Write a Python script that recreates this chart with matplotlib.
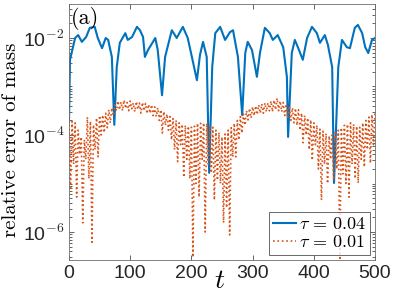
import math
import matplotlib
matplotlib.use('Agg')
from matplotlib import pyplot as plt
from matplotlib.ticker import FixedLocator, FuncFormatter, NullFormatter

# relative error of mass, tau = 0.04 (log10 values)
t_blue = [0, 1.6, 10, 15, 21, 28, 34, 42, 47, 54, 60, 64, 70, 74, 78, 83, 92, 96, 103, 111,
          116, 121, 124, 129, 141, 145, 152, 157, 168, 176, 186, 194, 203, 209, 214, 219, 225,
          229, 234, 239, 247, 255, 263, 268, 276, 283, 288, 292, 299, 307, 312, 320, 328, 333,
          341, 350, 356, 358, 364, 369, 374, 382, 389, 397, 405, 410, 418, 423, 430, 433, 440,
          446, 454, 459, 467, 472, 479, 484, 489, 495, 500]
log_blue = [-3.73, -2.45, -2.0, -1.94, -2.08, -1.98, -1.79, -1.77, -2.0, -2.21, -2.0, -2.04,
            -2.39, -3.79, -2.60, -2.10, -1.90, -2.04, -1.98, -1.77, -1.84, -1.98, -2.39, -2.25,
            -2.0, -2.25, -3.18, -2.39, -1.84, -2.0, -1.77, -2.0, -2.52, -2.87, -2.35, -2.08,
            -2.39, -4.78, -2.60, -1.90, -1.77, -2.04, -1.88, -1.84, -2.39, -3.59, -2.31, -2.08,
            -2.25, -2.80, -2.31, -1.79, -1.90, -2.04, -1.94, -2.19, -2.80, -4.04, -2.31, -2.04,
            -2.19, -2.45, -2.0, -1.77, -1.90, -2.10, -1.94, -2.14, -2.60, -4.99, -2.60, -2.04,
            -2.19, -2.21, -1.79, -1.73, -1.90, -2.19, -2.31, -2.04, -2.0]

# tau = 0.01, sampled every 2.5 time units from t = 0 to 500
t_orange = [i * 2.5 for i in range(201)]
log_orange = [
    -3.69, -5.13, -3.72, -4.6, -3.75, -5.28, -3.9, -4.4, -4.04, -5.81, -4.10, -4.5, -3.63, -4.9,
    -3.72, -6.21, -3.79, -4.3, -3.65, -4.45, -3.6, -4.0, -3.59, -3.95, -3.55, -3.85, -3.48, -3.75,
    -3.44, -3.6, -3.38, -3.5, -3.30, -3.48, -3.32, -3.5, -3.28, -3.45, -3.33, -3.5, -3.3, -3.46,
    -3.34, -3.52, -3.31, -3.47, -3.34, -3.55, -3.33, -3.5, -3.35, -3.56, -3.37, -3.55, -3.38, -3.6,
    -3.42, -3.62, -3.44, -3.7, -3.48, -3.96, -3.52, -3.8, -3.57, -3.9, -3.62, -4.1, -3.66, -4.3,
    -3.7, -4.55, -3.75, -4.2, -3.78, -4.87, -3.8, -4.5, -3.82, -4.9, -3.84, -6.52, -3.82, -5.0,
    -3.76, -5.28, -3.76, -4.5, -3.75, -6.0, -3.76, -4.6, -3.8, -4.78, -3.84, -5.34, -3.9, -4.93,
    -3.95, -5.0, -4.04, -5.81, -3.98, -5.5, -3.9, -6.06, -3.85, -4.45, -3.76, -4.45, -3.7, -4.1,
    -3.62, -3.96, -3.57, -3.8, -3.5, -3.69, -3.45, -3.65, -3.42, -3.6, -3.4, -3.58, -3.38, -3.55,
    -3.36, -3.55, -3.34, -3.52, -3.34, -3.5, -3.3, -3.52, -3.28, -3.48, -3.24, -3.5, -3.3, -3.52,
    -3.33, -3.6, -3.36, -3.65, -3.4, -3.7, -3.44, -3.75, -3.45, -3.8, -3.48, -3.9, -3.55, -4.16,
    -3.6, -4.0, -3.65, -4.3, -3.69, -4.52, -3.75, -4.2, -3.8, -4.7, -3.88, -5.34, -3.92, -4.6,
    -3.97, -5.0, -4.02, -4.5, -4.0, -4.93, -3.95, -4.7, -3.9, -6.58, -3.85, -4.8, -3.8, -5.0,
    -3.78, -5.28, -3.75, -4.6, -3.78, -4.9, -3.82, -4.99, -3.84, -4.5, -3.75, -4.66, -3.7, -4.3,
    -3.63, -4.58, -3.58, -4.2, -3.53]

err_blue = [10.0 ** v for v in log_blue]
err_orange = [10.0 ** v for v in log_orange]

plt.rcParams['mathtext.fontset'] = 'cm'
plt.rcParams['font.family'] = 'Liberation Sans'

fig = plt.figure(figsize=(3.95, 2.96), dpi=100)
ax = fig.add_axes([0.1747, 0.1216, 0.7747, 0.8639])

ax.plot(t_blue, err_blue, color='#0072BD', lw=1.5, label=r'$\tau\,=\,0.04$')
ax.plot(t_orange, err_orange, color='#D95319', lw=1.2, ls=':', label=r'$\tau\,=\,0.01$')

ax.set_yscale('log')
ax.set_xlim(0, 500)
ax.set_ylim(2.65e-7, 4.95e-2)
ax.set_xticks([0, 100, 200, 300, 400, 500])
ax.yaxis.set_major_locator(FixedLocator([1e-6, 1e-4, 1e-2]))
minors = [m * 10.0 ** e for e in range(-7, -1) for m in range(1, 10)]
ax.yaxis.set_minor_locator(FixedLocator(minors))
ax.yaxis.set_minor_formatter(NullFormatter())
ax.yaxis.set_major_formatter(FuncFormatter(
    lambda v, p: '10$^{\\mathsf{-%d}}$' % round(-math.log10(v))))

ax.tick_params(which='both', direction='in', top=True, right=True, colors='#262626',
               labelsize=14, width=0.5)
ax.tick_params(which='major', length=3.5)
ax.tick_params(which='minor', length=2)
for s in ax.spines.values():
    s.set_color('#6e6e6e')
    s.set_linewidth(0.6)

ax.set_xlabel(r'$t$', fontsize=20)
ax.xaxis.set_label_coords(0.493, -0.03)
ax.set_ylabel('relative error of mass', family='cmr10', fontsize=15)
ax.yaxis.set_label_coords(-0.16, 0.47)
ax.text(0.005, 0.99, '(a)', transform=ax.transAxes, family='cmr10', fontsize=16,
        va='top', ha='left')

leg = ax.legend(loc='lower right', fontsize=13, handlelength=1.3, handletextpad=0.15,
                borderpad=0.2, labelspacing=0.05, borderaxespad=0.3, fancybox=False)
leg.get_frame().set_edgecolor('#262626')
leg.get_frame().set_linewidth(0.6)

fig.savefig('out.png', dpi=100)
